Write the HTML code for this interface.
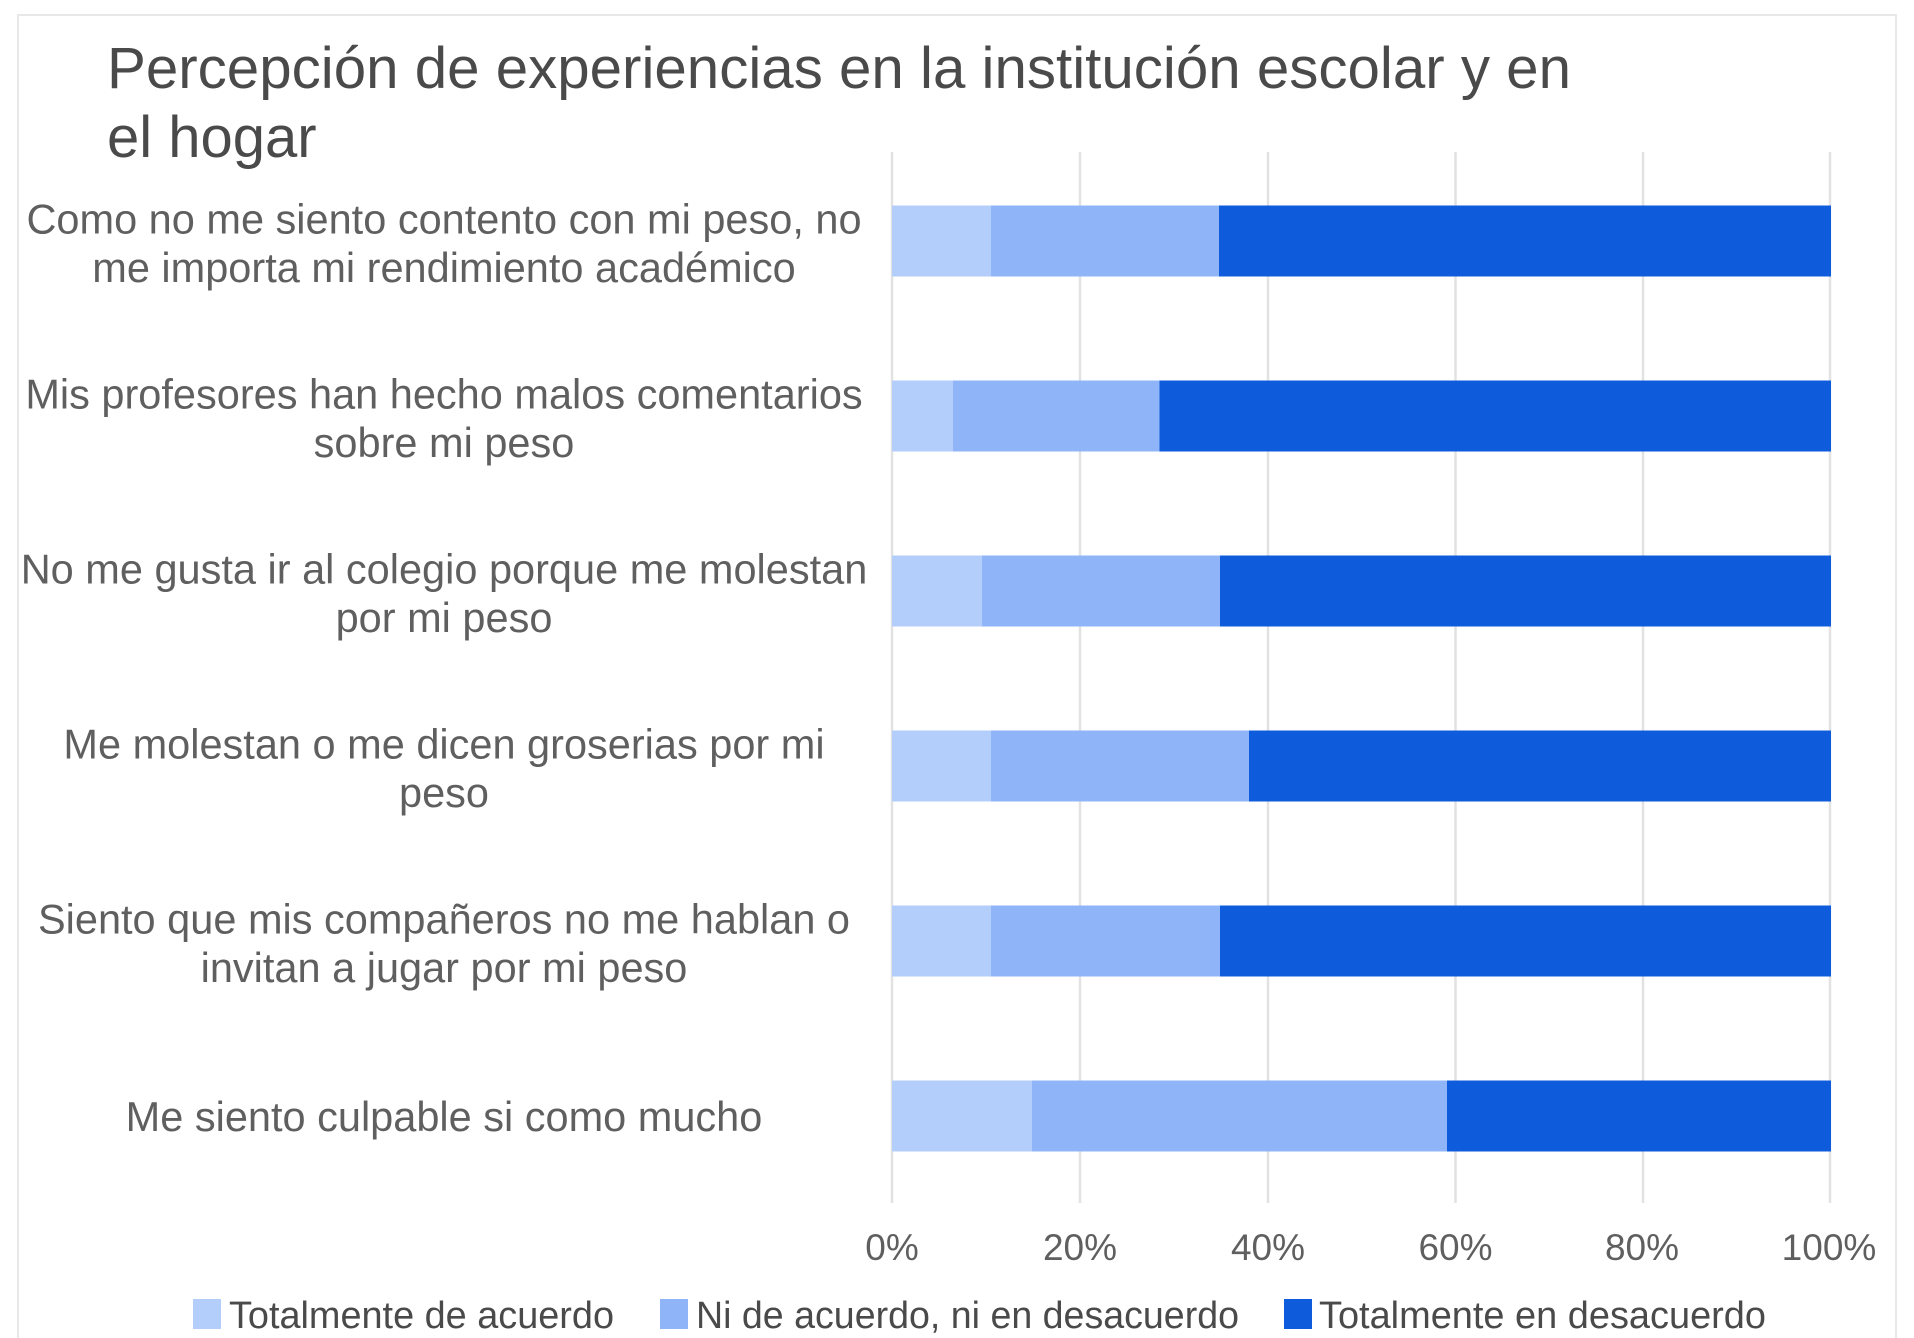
<!DOCTYPE html>
<html>
<head>
<meta charset="utf-8">
<style>
  html, body { margin: 0; padding: 0; background: #ffffff; }
  body { width: 1914px; height: 1338px; overflow: hidden; }
  svg { display: block; }
  text { font-family: "Liberation Sans", Arial, sans-serif; }
</style>
</head>
<body>
<svg width="1914" height="1338" viewBox="0 0 1914 1338" xmlns="http://www.w3.org/2000/svg">
  <rect x="0" y="0" width="1914" height="1338" fill="#ffffff"/>
  <!-- card border -->
  <rect x="18" y="15" width="1878" height="1340" fill="none" stroke="#e8e8e8" stroke-width="2"/>

  <!-- title -->
  <text x="107" y="88" font-size="58" fill="#4a4a4a" textLength="1464" lengthAdjust="spacingAndGlyphs">Percepción de experiencias en la institución escolar y en</text>
  <text x="107" y="157" font-size="58" fill="#4a4a4a">el hogar</text>

  <!-- gridlines -->
  <g stroke="#e2e2e2" stroke-width="2.5">
    <line x1="892" y1="152" x2="892" y2="1203"/>
    <line x1="1080" y1="152" x2="1080" y2="1203"/>
    <line x1="1268" y1="152" x2="1268" y2="1203"/>
    <line x1="1455.5" y1="152" x2="1455.5" y2="1203"/>
    <line x1="1643" y1="152" x2="1643" y2="1203"/>
    <line x1="1830" y1="152" x2="1830" y2="1203"/>
  </g>

  <!-- bars -->
  <g>
    <rect x="892" y="205.5" width="99" height="71" fill="#b4cefb"/>
    <rect x="991" y="205.5" width="228" height="71" fill="#8fb5f8"/>
    <rect x="1219" y="205.5" width="612" height="71" fill="#0e5bdc"/>

    <rect x="892" y="380.5" width="61" height="71" fill="#b4cefb"/>
    <rect x="953" y="380.5" width="206.5" height="71" fill="#8fb5f8"/>
    <rect x="1159.5" y="380.5" width="671.5" height="71" fill="#0e5bdc"/>

    <rect x="892" y="555.5" width="90" height="71" fill="#b4cefb"/>
    <rect x="982" y="555.5" width="238" height="71" fill="#8fb5f8"/>
    <rect x="1220" y="555.5" width="611" height="71" fill="#0e5bdc"/>

    <rect x="892" y="730.5" width="99" height="71" fill="#b4cefb"/>
    <rect x="991" y="730.5" width="258" height="71" fill="#8fb5f8"/>
    <rect x="1249" y="730.5" width="582" height="71" fill="#0e5bdc"/>

    <rect x="892" y="905.5" width="99" height="71" fill="#b4cefb"/>
    <rect x="991" y="905.5" width="229" height="71" fill="#8fb5f8"/>
    <rect x="1220" y="905.5" width="611" height="71" fill="#0e5bdc"/>

    <rect x="892" y="1080.5" width="140" height="71" fill="#b4cefb"/>
    <rect x="1032" y="1080.5" width="415" height="71" fill="#8fb5f8"/>
    <rect x="1447" y="1080.5" width="384" height="71" fill="#0e5bdc"/>
  </g>

  <!-- category labels -->
  <g font-size="41.5" fill="#5f5f5f" text-anchor="middle">
    <text x="444" y="233.5">Como no me siento contento con mi peso, no</text>
    <text x="444" y="282">me importa mi rendimiento académico</text>

    <text x="444" y="408.5">Mis profesores han hecho malos comentarios</text>
    <text x="444" y="457">sobre mi peso</text>

    <text x="444" y="583.5">No me gusta ir al colegio porque me molestan</text>
    <text x="444" y="632">por mi peso</text>

    <text x="444" y="758.5">Me molestan o me dicen groserias por mi</text>
    <text x="444" y="807">peso</text>

    <text x="444" y="933.5">Siento que mis compañeros no me hablan o</text>
    <text x="444" y="982">invitan a jugar por mi peso</text>

    <text x="444" y="1131">Me siento culpable si como mucho</text>
  </g>

  <!-- x tick labels -->
  <g font-size="37" fill="#5f5f5f" text-anchor="middle">
    <text x="892" y="1260">0%</text>
    <text x="1080" y="1260">20%</text>
    <text x="1268" y="1260">40%</text>
    <text x="1455.5" y="1260">60%</text>
    <text x="1642" y="1260">80%</text>
    <text x="1829" y="1260">100%</text>
  </g>

  <!-- legend -->
  <g font-size="38" fill="#4a4a4a">
    <rect x="193" y="1299" width="28" height="30" fill="#b4cefb"/>
    <text x="229" y="1328" textLength="385" lengthAdjust="spacingAndGlyphs">Totalmente de acuerdo</text>
    <rect x="660" y="1299" width="28" height="30" fill="#8fb5f8"/>
    <text x="696" y="1328" textLength="543" lengthAdjust="spacingAndGlyphs">Ni de acuerdo, ni en desacuerdo</text>
    <rect x="1284" y="1299" width="28" height="30" fill="#0e5bdc"/>
    <text x="1319" y="1328" textLength="447" lengthAdjust="spacingAndGlyphs">Totalmente en desacuerdo</text>
  </g>
</svg>
</body>
</html>
